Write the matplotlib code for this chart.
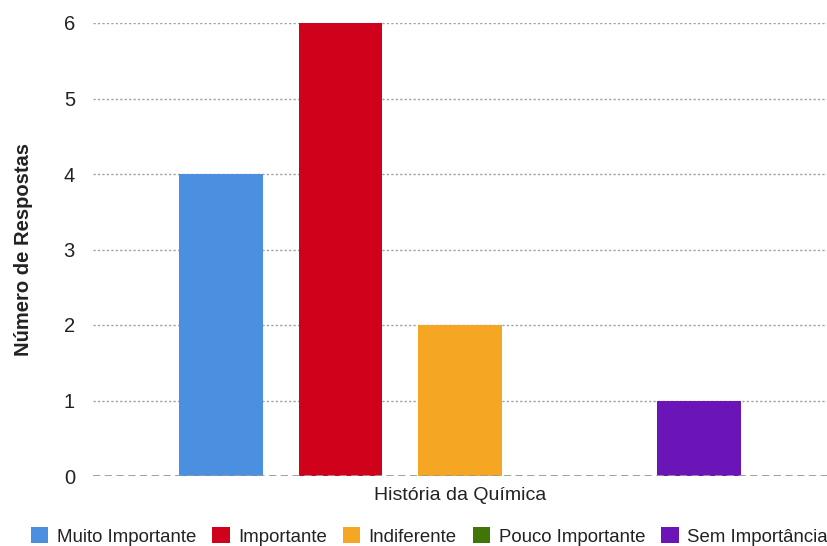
import matplotlib
matplotlib.use("Agg")
import matplotlib.pyplot as plt
from matplotlib.patches import Patch

plt.rcParams["font.family"] = ["Liberation Sans", "DejaVu Sans"]

categories = ["Muito Importante", "Importante", "Indiferente",
              "Pouco Importante", "Sem Importância"]
respostas = [4, 6, 2, 0, 1]
colors = ["#4a8fe0", "#d0021b", "#f5a623", "#417505", "#6b14b8"]
yticks = [0, 1, 2, 3, 4, 5, 6]

fig = plt.figure(figsize=(8.27, 5.46), dpi=100)
ax = fig.add_axes([93 / 827, 70 / 546, 734 / 827, 453 / 546])

x = list(range(len(categories)))
ax.bar(x, respostas, width=0.70, color=colors, zorder=3)

# gridlines: dotted for values, dashed baseline at zero
for v in yticks[1:]:
    ax.axhline(v, color="#a0a0a0", linewidth=1.0, linestyle=(0, (1.6, 1.6)), zorder=1)
ax.axhline(0, color="#999999", linewidth=1.3, linestyle=(0, (4, 2.5)), zorder=4)

ax.set_xlim(-1.07, 5.07)
ax.set_ylim(0, 6)
ax.set_yticks(yticks)
ax.set_xticks([])
ax.tick_params(axis="y", length=0, pad=13, labelsize=14.5, labelcolor="#222222")
for s in ax.spines.values():
    s.set_visible(False)

ax.set_xlabel("História da Química", fontsize=14, color="#222222", labelpad=8)
ax.set_ylabel("Número de Respostas", fontsize=14.5, fontweight="bold",
              color="#222222", labelpad=22)

handles = [Patch(facecolor=c, edgecolor="none") for c in colors]
fig.legend(handles, categories, loc="lower center", bbox_to_anchor=(0.519, -0.03),
           ncol=5, frameon=False, fontsize=13.4, handlelength=0.95, handleheight=0.95,
           handletextpad=0.45, columnspacing=0.85, labelcolor="#222222")

fig.savefig("out.png", dpi=100)
plt.close(fig)
